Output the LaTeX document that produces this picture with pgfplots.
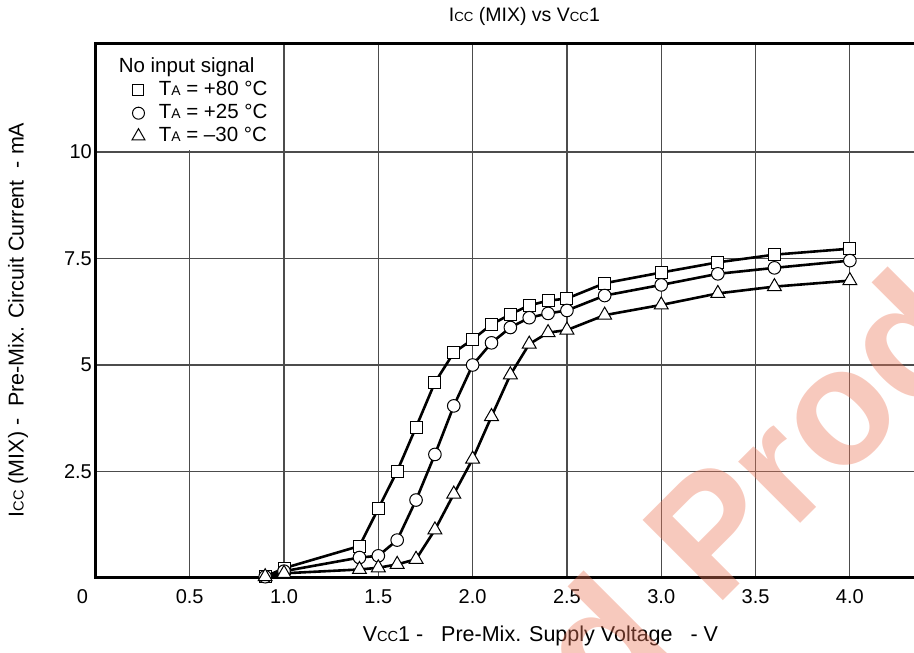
\documentclass[border=0pt]{standalone}
\usepackage{fontspec}
\setmainfont{Liberation Sans}
\usepackage{graphicx}
\usepackage{pgfplots}
\pgfplotsset{compat=1.18}
\newcommand{\sm}[1]{\scalebox{0.68}{#1}}
\definecolor{wm}{RGB}{236,120,90}

\pgfplotstableread{
v I
0.9 0.03
1.0 0.23
1.4 0.75
1.5 1.63
1.6 2.51
1.7 3.54
1.8 4.59
1.9 5.29
2.0 5.60
2.1 5.95
2.2 6.19
2.3 6.40
2.4 6.51
2.5 6.56
2.7 6.92
3.0 7.17
3.3 7.41
3.6 7.59
4.0 7.73
}\tabA
\pgfplotstableread{
v I
0.9 0.03
1.0 0.16
1.4 0.48
1.5 0.52
1.6 0.89
1.7 1.83
1.8 2.90
1.9 4.04
2.0 5.00
2.1 5.52
2.2 5.88
2.3 6.11
2.4 6.21
2.5 6.28
2.7 6.63
3.0 6.88
3.3 7.14
3.6 7.28
4.0 7.45
}\tabB
\pgfplotstableread{
v I
0.9 0.03
1.0 0.11
1.4 0.20
1.5 0.24
1.6 0.32
1.7 0.44
1.8 1.13
1.9 1.97
2.0 2.79
2.1 3.79
2.2 4.77
2.3 5.49
2.4 5.76
2.5 5.82
2.7 6.17
3.0 6.41
3.3 6.68
3.6 6.84
4.0 6.98
}\tabC

\begin{document}
\begin{tikzpicture}
\useasboundingbox (-95.4pt,-75pt) rectangle (818.6pt,578pt);
\begin{axis}[
  at={(0pt,0pt)}, anchor=south west,
  scale only axis, width=818.6pt, height=534pt,
  xmin=0, xmax=4.34, ymin=0, ymax=12.535,
  clip=false,
  axis line style={draw=none},
  xtick={0.5,1.0,1.5,2.0,2.5,3.0,3.5,4.0},
  xticklabels={0.5,1.0,1.5,2.0,2.5,3.0,3.5,4.0},
  extra x ticks={0}, extra x tick labels={0},
  extra x tick style={grid=none, xticklabel style={xshift=-13pt}},
  ytick={2.5,5,7.5,10},
  yticklabels={2.5,5,7.5,10},
  major tick length=0pt,
  tick label style={font=\fontsize{20}{24}\selectfont},
  xticklabel style={yshift=-8pt},
  grid=major,
  major grid style={black!70, line width=1.2pt},
  every axis plot/.append style={black, line width=2.6pt, mark options={fill=white, line width=1pt, solid}},
  legend style={at={(axis cs:0,12.535)}, anchor=north west, xshift=26.6pt, yshift=-13pt,
    draw=none, fill=none, inner sep=0pt, row sep=3pt, column sep=0pt,
    font=\fontsize{20.5}{24}\selectfont,
    nodes={inner sep=0pt, text height=15pt, text depth=5pt}},
  legend cell align=left,
  legend image code/.code={\path (0pt,0pt) (34pt,0pt); \draw[#1,only marks] plot coordinates {(15pt,0pt)};},
]
\fill[white] (axis cs:0.02,10.04) rectangle (axis cs:0.988,12.5);
\addplot[mark=square*, mark size=6pt, forget plot] table[x=v,y=I] {\tabA};
\addplot[mark=*, mark size=6.3pt, forget plot] table[x=v,y=I] {\tabB};
\addplot[mark=triangle*, mark size=8pt, forget plot] table[x=v,y=I] {\tabC};
\addlegendimage{empty legend}
\addlegendentry{\hspace*{-40pt}No input signal}
\addlegendimage{only marks, mark=square*, mark size=5.5pt}
\addlegendentry{T\sm{A} = +80 °C}
\addlegendimage{only marks, mark=*, mark size=6pt}
\addlegendentry{T\sm{A} = +25 °C}
\addlegendimage{only marks, mark=triangle*, mark size=7.5pt}
\addlegendentry{T\sm{A} = –30 °C}
\draw[line width=3pt, line cap=rect] (rel axis cs:1,1) -- (rel axis cs:0,1) -- (rel axis cs:0,0) -- (rel axis cs:1,0);
\end{axis}
\node[font=\fontsize{19.5}{23}\selectfont] at (429pt,562pt) {I\sm{CC} (MIX) vs V\sm{CC}1};
\node[font=\fontsize{21.5}{25}\selectfont] at (445pt,-58pt) {V\sm{CC}1 -\ \ \ Pre-Mix. Supply Voltage\ \ \ - V};
\node[font=\fontsize{21.5}{25}\selectfont, rotate=90] at (-77.4pt,258pt) {I\sm{CC} (MIX) -\ \ Pre-Mix. Circuit Current\ \ - mA};
\node[font=\fontsize{165}{190}\selectfont\bfseries, text=wm, opacity=0.4, rotate=45, anchor=base west, inner sep=0pt] at (619.5pt,-31pt) {Product};
\node[font=\fontsize{165}{190}\selectfont\bfseries, text=wm, opacity=0.4, rotate=45, anchor=base east, inner sep=0pt] at (581.5pt,-69pt) {Discontinued};
\end{tikzpicture}
\end{document}
